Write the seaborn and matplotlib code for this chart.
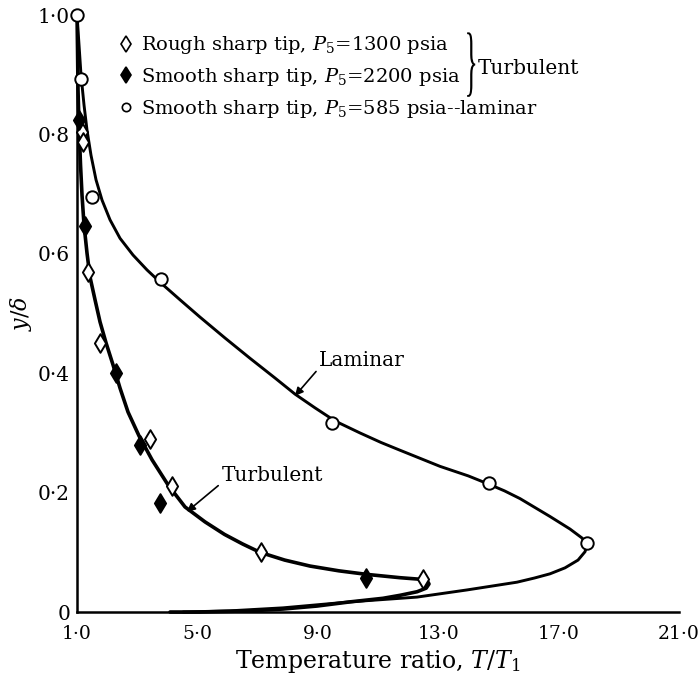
import matplotlib
matplotlib.use("Agg")
import matplotlib.pyplot as plt
import matplotlib.transforms as mtransforms
import seaborn as sns
import pandas as pd
from matplotlib.lines import Line2D
from matplotlib.textpath import TextPath
from matplotlib.patches import PathPatch
from matplotlib.font_manager import FontProperties

# data (T/T1 vs y/delta)
rough_x = [1.17, 1.2, 1.37, 1.76, 3.43, 4.15, 7.1, 12.5]
rough_y = [0.804, 0.787, 0.57, 0.45, 0.29, 0.211, 0.10, 0.055]

smooth_x = [1.05, 1.27, 2.3, 3.1, 3.76, 10.6]
smooth_y = [0.824, 0.647, 0.40, 0.28, 0.183, 0.057]

lam_pts_x = [1.0, 1.13, 1.5, 3.79, 9.47, 14.7, 17.94]
lam_pts_y = [1.0, 0.893, 0.695, 0.558, 0.317, 0.216, 0.116]

# faired curves, traced by eye
turb_x = [1.0, 1.017, 1.033, 1.066, 1.116, 1.166, 1.233, 1.332, 1.432, 1.598,
          1.764, 1.963, 2.196, 2.429, 2.694, 3.06, 3.492, 4.023, 4.588, 5.252,
          5.9, 6.5, 7.08, 7.9, 8.74, 9.7, 10.635, 11.73, 12.5, 12.65, 12.694,
          12.6, 12.3, 11.731, 11.166, 10.07, 8.973, 7.844, 6.748, 5.086, 4.09]
turb_y = [1.0, 0.941, 0.874, 0.816, 0.749, 0.698, 0.648, 0.601, 0.561, 0.523,
          0.486, 0.451, 0.414, 0.375, 0.335, 0.295, 0.255, 0.213, 0.176, 0.151,
          0.130, 0.114, 0.100, 0.087, 0.077, 0.069, 0.063, 0.0575, 0.0545,
          0.051, 0.047, 0.040, 0.034, 0.028, 0.023, 0.017, 0.010, 0.005,
          0.002, 0.0, 0.0]

lam_x = [1.0, 1.066, 1.133, 1.233, 1.332, 1.465, 1.631, 1.831, 2.096, 2.429,
         2.86, 3.326, 3.791, 4.422, 5.086, 5.917, 6.748, 7.578, 8.243, 8.907,
         9.571, 10.4, 11.1, 11.731, 13.06, 14.0, 14.688, 15.2, 15.718, 16.714,
         17.379, 17.777, 17.944, 17.877, 17.645, 17.213, 16.714, 16.2, 15.618,
         13.957, 12.296, 10.07, 7.844, 6.083, 4.522]
lam_y = [1.0, 0.95, 0.899, 0.849, 0.807, 0.765, 0.724, 0.69, 0.657, 0.626,
         0.598, 0.573, 0.551, 0.523, 0.494, 0.459, 0.425, 0.392, 0.365, 0.342,
         0.320, 0.300, 0.284, 0.271, 0.244, 0.228, 0.214, 0.203, 0.19, 0.16,
         0.139, 0.124, 0.112, 0.101, 0.087, 0.074, 0.064, 0.057, 0.05,
         0.037, 0.025, 0.017, 0.007, 0.002, 0.0]

x_ticks = [1, 5, 9, 13, 17, 21]
x_labels = ["1·0", "5·0", "9·0", "13·0", "17·0", "21·0"]
y_ticks = [0, 0.2, 0.4, 0.6, 0.8, 1.0]
y_labels = ["0", "0·2", "0·4", "0·6", "0·8", "1·0"]

sns.set_style("white")
plt.rcParams["font.family"] = ["DejaVu Serif"]
plt.rcParams["mathtext.fontset"] = "dejavuserif"
for k in ["text.color", "axes.labelcolor", "xtick.color", "ytick.color"]:
    plt.rcParams[k] = "black"

fig = plt.figure(figsize=(6.99, 6.75), dpi=100)
ax = fig.add_axes([0.1102, 0.0933, 0.8612, 0.8844])

turb = pd.DataFrame({"x": turb_x, "y": turb_y})
lam = pd.DataFrame({"x": lam_x, "y": lam_y})
sns.lineplot(data=turb, x="x", y="y", sort=False, estimator=None, color="black",
             lw=2.6, ax=ax, clip_on=False)
sns.lineplot(data=lam, x="x", y="y", sort=False, estimator=None, color="black",
             lw=2.1, ax=ax, clip_on=False)

mk = dict(ax=ax, edgecolor="black", linewidth=1.4, zorder=5, clip_on=False)
sns.scatterplot(x=rough_x, y=rough_y, marker="d", s=90, facecolor="white", **mk)
sns.scatterplot(x=smooth_x, y=smooth_y, marker="d", s=90, facecolor="black", **mk)
sns.scatterplot(x=lam_pts_x, y=lam_pts_y, marker="o", s=80, facecolor="white", **mk)

ax.set_xlim(1, 21)
ax.set_ylim(0, 1)
ax.set_xticks(x_ticks)
ax.set_xticklabels(x_labels)
ax.set_yticks(y_ticks)
ax.set_yticklabels(y_labels)
ax.tick_params(axis="both", direction="in", width=1.5, color="black",
               labelcolor="black")
ax.tick_params(axis="y", length=13, pad=5, labelsize=14.5)
ax.tick_params(axis="x", length=11, pad=9, labelsize=13.5)
ax.yaxis.get_major_ticks()[0].tick1line.set_visible(False)
ax.xaxis.get_major_ticks()[0].tick1line.set_visible(False)
for s in ["top", "right"]:
    ax.spines[s].set_visible(False)
for s in ["left", "bottom"]:
    ax.spines[s].set_linewidth(1.8)
    ax.spines[s].set_color("black")
ax.grid(False)

ax.set_xlabel("Temperature ratio, $T/T_1$", fontsize=17, labelpad=4)
ax.set_ylabel("$y/\\delta$", fontsize=16, labelpad=3)

# legend
handles = [
    Line2D([], [], ls="none", marker="d", ms=8, mfc="white", mec="black", mew=1.2),
    Line2D([], [], ls="none", marker="d", ms=8, mfc="black", mec="black", mew=1.2),
    Line2D([], [], ls="none", marker="o", ms=6, mfc="white", mec="black", mew=1.2),
]
labels = [
    "Rough sharp tip, $P_5$=1300 psia",
    "Smooth sharp tip, $P_5$=2200 psia",
    "Smooth sharp tip, $P_5$=585 psia--laminar",
]
ax.legend(handles, labels, loc="upper left", bbox_to_anchor=(0.055, 0.984),
          frameon=False, fontsize=14, handlelength=0.6, handletextpad=0.5,
          borderpad=0, labelspacing=0.5)

# thin curly brace grouping the first two entries (squeezed glyph)
tp = TextPath((0, 0), "}", size=1, prop=FontProperties(family="Liberation Serif"))
bb = tp.get_extents()
brace_tr = (mtransforms.Affine2D()
            .translate(-bb.x0, -(bb.y0 + bb.y1) / 2)
            .scale(0.0135 / bb.width, 0.108 / bb.height)
            .translate(0.648, 0.917) + ax.transAxes)
ax.add_patch(PathPatch(tp, transform=brace_tr, facecolor="black",
                       edgecolor="none", clip_on=False))
ax.text(14.32, 0.910, "Turbulent", fontsize=14.5, ha="left", va="center")

ax.annotate("Laminar", xy=(8.24, 0.362), xytext=(9.05, 0.422), fontsize=14.5,
            ha="left", va="center",
            arrowprops=dict(arrowstyle="-|>", color="black", lw=1.2,
                            shrinkA=0, shrinkB=0, mutation_scale=12,
                            relpos=(0, 0.1)))
ax.annotate("Turbulent", xy=(4.65, 0.168), xytext=(5.8, 0.229), fontsize=14.5,
            ha="left", va="center",
            arrowprops=dict(arrowstyle="-|>", color="black", lw=1.2,
                            shrinkA=0, shrinkB=0, mutation_scale=12,
                            relpos=(0, 0.1)))

fig.savefig("out.png", dpi=100)
